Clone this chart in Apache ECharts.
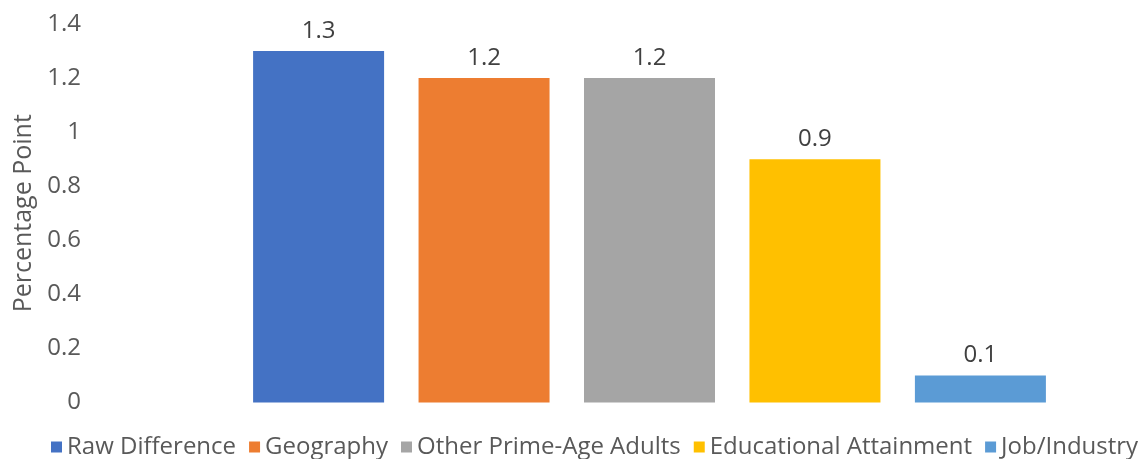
<!DOCTYPE html>
<html>
<head>
<meta charset="utf-8">
<script src="https://cdn.jsdelivr.net/npm/echarts@6/dist/echarts.min.js"></script>
<style>
  html, body { margin: 0; padding: 0; background: #fff; }
  #chart { width: 1144px; height: 459px; }
</style>
</head>
<body>
<div id="chart"></div>
<script>
// Contributions to the gap, in percentage points
const seriesNames = ['Raw Difference', 'Geography', 'Other Prime-Age Adults', 'Educational Attainment', 'Job/Industry'];
const seriesValues = [1.3, 1.2, 1.2, 0.9, 0.1];
const seriesColors = ['#4472C4', '#ED7D31', '#A5A5A5', '#FFC000', '#5B9BD5'];
const categories = [''];
const yAxisTitle = 'Percentage Point';

const fontFamily = '"Open Sans", sans-serif';

const chart = echarts.init(document.getElementById('chart'), null, { renderer: 'canvas' });

const series = seriesNames.map((name, i) => ({
  name: name,
  type: 'bar',
  data: [seriesValues[i]],
  barWidth: 131,
  barGap: '26.3%',
  itemStyle: { color: seriesColors[i] },
  label: {
    show: true,
    position: 'top',
    distance: 8,
    color: '#404040',
    fontFamily: fontFamily,
    fontSize: 24,
    formatter: (p) => String(p.value)
  }
}));

chart.setOption({
  animation: false,
  backgroundColor: '#ffffff',
  grid: { left: 234, right: 79, top: 24, bottom: 56.5, containLabel: false },
  legend: {
    data: seriesNames,
    left: 51,
    bottom: 0,
    padding: 0,
    icon: 'rect',
    itemWidth: 11,
    itemHeight: 11,
    itemGap: 13,
    textStyle: { color: '#595959', fontFamily: fontFamily, fontSize: 24 }
  },
  xAxis: {
    type: 'category',
    data: categories,
    axisLine: { show: false },
    axisTick: { show: false },
    axisLabel: { show: false }
  },
  yAxis: {
    type: 'value',
    min: 0,
    max: 1.4,
    interval: 0.2,
    name: yAxisTitle,
    nameLocation: 'middle',
    nameGap: 198,
    nameRotate: 90,
    nameTextStyle: { color: '#595959', fontFamily: fontFamily, fontSize: 25 },
    axisLine: { show: false },
    axisTick: { show: false },
    splitLine: { show: false },
    axisLabel: {
      color: '#595959',
      fontFamily: fontFamily,
      fontSize: 24,
      margin: 153,
      formatter: (v) => String(Math.round(v * 10) / 10)
    }
  },
  series: series
});
</script>
</body>
</html>
